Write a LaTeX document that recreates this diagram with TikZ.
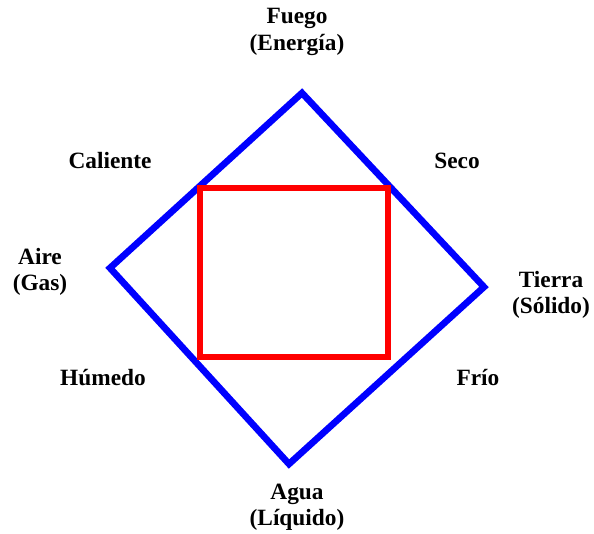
\documentclass[tikz,border=0pt]{standalone}
\usepackage{fontspec}
\setmainfont{Liberation Serif}
\usetikzlibrary{positioning}

\begin{document}
\begin{tikzpicture}[
  x=0.75pt, y=-0.75pt,
  lbl/.style={font=\fontsize{17.5}{19.8}\selectfont\bfseries, align=center, inner sep=0pt},
  rombo/.style={draw=blue, line width=5pt, line join=miter},
  cuadro/.style={draw=red, line width=5pt, line join=miter}
]
\useasboundingbox (0,0) rectangle (594,534);

% vertices of the diamond
\coordinate (top) at (302,93);
\coordinate (rgt) at (484,287);
\coordinate (bot) at (289,464);
\coordinate (lft) at (110,268);

\draw[rombo] (top) -- (rgt) -- (bot) -- (lft) -- cycle;

% inner square
\coordinate (sqa) at (200,188);
\coordinate (sqb) at (388,357);
\draw[cuadro] (sqa) rectangle (sqb);

% labels
\node[lbl] (fuego) at (297,32) {Fuego\\(Energía)};
\node[lbl] (caliente) at (110,161) {Caliente};
\node[lbl] (seco) at (457,161) {Seco};
\node[lbl] (aire) at (40,272) {Aire\\(Gas)};
\node[lbl] (tierra) at (551,295) {Tierra\\(Sólido)};
\node[lbl] (humedo) at (103,378) {Húmedo};
\node[lbl] (frio) at (478,378) {Frío};
\node[lbl] (agua) at (297,507) {Agua\\(Líquido)};

\end{tikzpicture}
\end{document}
